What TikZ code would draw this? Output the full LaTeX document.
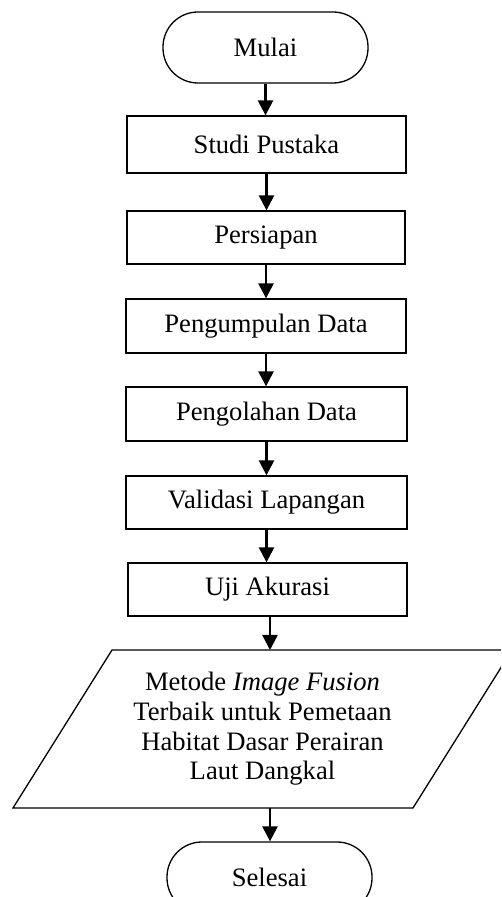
\documentclass[tikz,border=0pt]{standalone}
\usepackage{fontspec}
\setmainfont{Liberation Serif}
\usetikzlibrary{arrows.meta}
\begin{document}
\begin{tikzpicture}[x=1pt,y=1pt,
  every node/.style={font=\fontsize{26.6}{29.7}\selectfont},
  procbox/.style={draw, line width=1.3pt, rectangle, inner sep=0pt, align=center},
  termbox/.style={draw, line width=1.3pt, rectangle, rounded corners=35pt, inner sep=0pt, minimum width=205pt, minimum height=71pt},
  arr/.style={line width=2.5pt, -{Triangle[width=15pt,length=15pt]}}]
\useasboundingbox (0,0) rectangle (501,897);
\clip (0,0) rectangle (501,897);
\node[termbox] (mulai) at (265.5,849.5) {Mulai};
\node[procbox, minimum width=279pt, minimum height=57pt] (studi) at (266.5,752.5) {Studi Pustaka};
\node[procbox, minimum width=278pt, minimum height=53pt] (pers) at (266,659.5) {Persiapan};
\node[procbox, minimum width=280pt, minimum height=54pt] (pengum) at (266,571) {Pengumpulan Data};
\node[procbox, minimum width=281pt, minimum height=54pt] (pengol) at (266.5,483) {Pengolahan Data};
\node[procbox, minimum width=281pt, minimum height=53pt] (valid) at (266.5,394.5) {Validasi Lapangan};
\node[procbox, minimum width=279pt, minimum height=53pt] (uji) at (267.5,307.5) {Uji Akurasi};
\coordinate (pTL) at (112,247);
\coordinate (pTR) at (512,247);
\coordinate (pBR) at (413,89);
\coordinate (pBL) at (13,89);
\draw[line width=1.3pt] (pTL) -- (pTR) -- (pBR) -- (pBL) -- cycle;
\node[align=center, inner sep=0pt] (hasil) at (262.5,168) {Metode \textit{Image Fusion}\\Terbaik untuk Pemetaan\\Habitat Dasar Perairan\\Laut Dangkal};
\node[termbox] (selesai) at (269.5,19.5) {Selesai};
\coordinate (pin) at (270,247);
\coordinate (pout) at (270,89);
\draw[arr] (mulai.south) -- (mulai.south |- studi.north);
\draw[arr] (studi.south) -- (studi.south |- pers.north);
\draw[arr] (pers.south) -- (pers.south |- pengum.north);
\draw[arr] (pengum.south) -- (pengum.south |- pengol.north);
\draw[arr] (pengol.south) -- (pengol.south |- valid.north);
\draw[arr] (valid.south) -- (valid.south |- uji.north);
\draw[arr] (pin |- uji.south) -- (pin);
\draw[arr] (pout) -- (pout |- selesai.north);
\end{tikzpicture}
\end{document}
